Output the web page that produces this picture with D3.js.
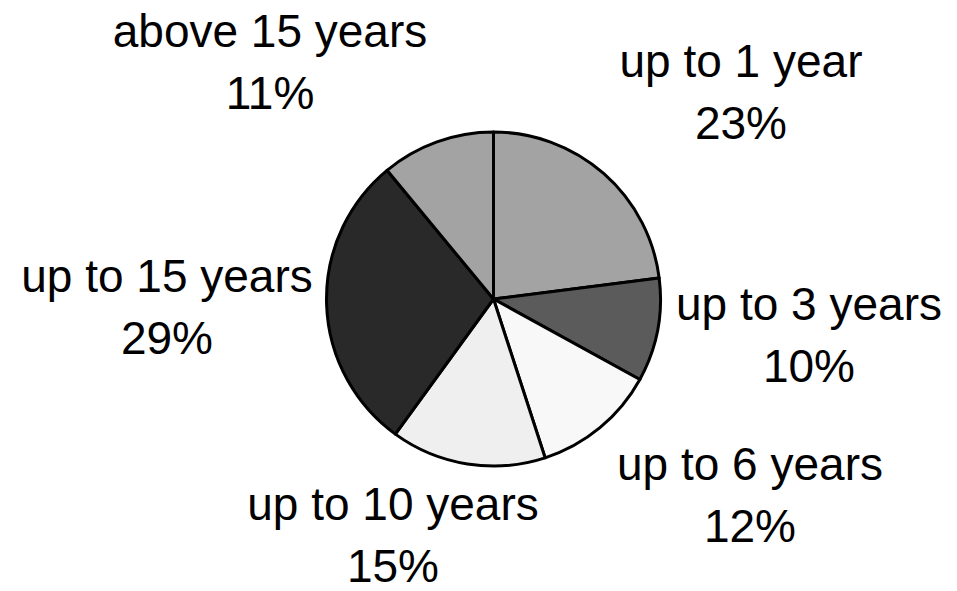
<!DOCTYPE html>
<html>
<head>
<meta charset="utf-8">
<script src="https://cdn.jsdelivr.net/npm/d3@7"></script>
<style>
  html, body { margin: 0; padding: 0; background: #ffffff; }
  svg { display: block; }
</style>
</head>
<body>
<svg id="chart" width="957" height="591"></svg>
<script>
// ---- data ----
const categories = ["up to 1 year", "up to 3 years", "up to 6 years", "up to 10 years", "up to 15 years", "above 15 years"];
const shares = [23, 10, 12, 15, 29, 11];
const percentLabels = ["23%", "10%", "12%", "15%", "29%", "11%"];

// ---- styling / layout (not data) ----
const fills = ["#a3a3a3", "#5b5b5b", "#f8f8f8", "#efefef", "#292929", "#a3a3a3"];
const W = 957, H = 591;
const cx = 493.5, cy = 299, radius = 167;
const fontSize = 46, lineGap = 62;
// label anchor (centre x, first baseline y) for each category
const labelAnchors = [
  [741, 77],
  [809, 320],
  [750, 480],
  [393, 520],
  [167, 292],
  [270, 47]
];

const svg = d3.select("#chart");
svg.append("rect").attr("width", W).attr("height", H).attr("fill", "#ffffff");

const pie = d3.pie().sort(null).value(d => d.v).startAngle(0).endAngle(2 * Math.PI);
const data = categories.map((c, i) => ({ c, v: shares[i], p: percentLabels[i], i }));
const arcs = pie(data);
const arc = d3.arc().innerRadius(0).outerRadius(radius);

const g = svg.append("g").attr("transform", `translate(${cx},${cy})`);
g.selectAll("path.slice")
  .data(arcs)
  .join("path")
  .attr("class", "slice")
  .attr("d", arc)
  .attr("fill", d => fills[d.data.i])
  .attr("stroke", "#000")
  .attr("stroke-width", 3)
  .attr("stroke-linejoin", "round");

const labels = svg.selectAll("text.lbl")
  .data(arcs)
  .join("text")
  .attr("class", "lbl")
  .attr("text-anchor", "middle")
  .attr("font-family", "'Liberation Sans', Arial, sans-serif")
  .attr("font-size", fontSize)
  .attr("fill", "#000");

labels.append("tspan")
  .attr("x", d => labelAnchors[d.data.i][0])
  .attr("y", d => labelAnchors[d.data.i][1])
  .text(d => d.data.c);
labels.append("tspan")
  .attr("x", d => labelAnchors[d.data.i][0])
  .attr("y", d => labelAnchors[d.data.i][1] + lineGap)
  .text(d => d.data.p);
</script>
</body>
</html>
